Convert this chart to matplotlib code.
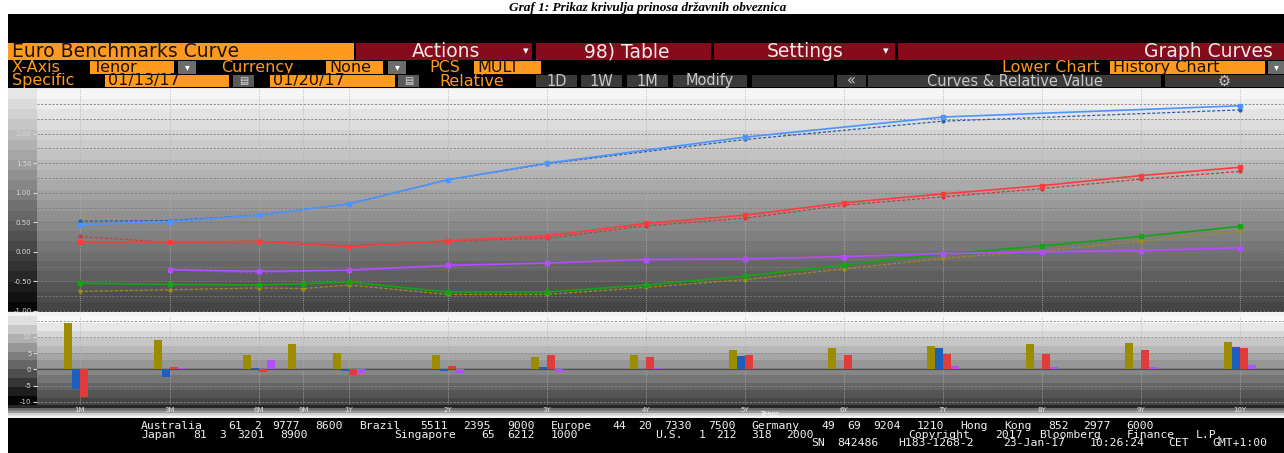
import numpy as np
import matplotlib
matplotlib.use("Agg")
import matplotlib.pyplot as plt
from matplotlib.patches import Rectangle

# ---------------- data ----------------
tenors = ['1M', '3M', '6M', '9M', '1Y', '2Y', '3Y', '4Y', '5Y', '6Y', '7Y', '8Y', '9Y', '10Y']
nan = np.nan

# upper chart: yields in %, current (solid) and comparison (dashed)
green_cur = [-0.53, -0.55, -0.56, -0.54, -0.51, -0.68, -0.68, -0.56, -0.41, -0.22, -0.04, 0.10, 0.26, 0.43]
olive_prev = [-0.67, -0.64, -0.61, -0.62, -0.56, -0.72, -0.72, -0.60, -0.47, -0.29, -0.11, 0.02, 0.18, 0.35]
blue_cur = [0.46, 0.51, 0.62, nan, 0.81, 1.22, 1.50, nan, 1.94, nan, 2.28, nan, nan, 2.47]
blue_prev = [0.52, 0.53, 0.62, nan, 0.81, 1.22, 1.49, nan, 1.90, nan, 2.21, nan, nan, 2.40]
red_cur = [0.17, 0.17, 0.175, nan, 0.085, 0.19, 0.27, 0.48, 0.62, 0.83, 0.98, 1.12, 1.29, 1.43]
red_prev = [0.26, 0.16, 0.18, nan, 0.10, 0.18, 0.23, 0.44, 0.57, 0.79, 0.93, 1.07, 1.23, 1.36]
purple_cur = [nan, -0.30, -0.33, nan, -0.31, -0.23, -0.19, -0.13, -0.12, -0.08, -0.03, 0.00, 0.02, 0.07]
purple_prev = [nan, -0.305, -0.36, nan, -0.30, -0.22, -0.18, -0.135, -0.12, -0.083, -0.041, -0.008, 0.011, 0.056]

# lower chart: change in bp
chg_olive = [14.3, 9.0, 4.5, 7.7, 5.0, 4.5, 3.7, 4.5, 6.0, 6.6, 7.2, 7.8, 8.1, 8.4]
chg_blue = [-6.1, -2.4, 0.4, nan, -0.4, -0.5, 0.8, nan, 4.0, nan, 6.5, nan, nan, 6.9]
chg_red = [-8.6, 0.9, -0.8, nan, -1.8, 1.1, 4.3, 3.8, 4.6, 4.3, 4.9, 4.7, 5.9, 6.6]
chg_purple = [nan, 0.5, 2.9, nan, -1.2, -1.2, -0.8, 0.5, 0.0, 0.3, 1.1, 0.8, 0.9, 1.4]

upper_ticks = [2.5, 2.0, 1.5, 1.0, 0.5, 0.0, -0.5, -1.0]
lower_ticks = [15, 10, 5, 0, -5, -10]

title = 'Graf 1: Prikaz krivulja prinosa državnih obveznica'
footer_lines = [
    'Australia 61 2 9777 8600 Brazil 5511 2395 9000 Europe 44 20 7330 7500 Germany 49 69 9204 1210 Hong Kong 852 2977 6000',
    'Japan 81 3 3201 8900         Singapore 65 6212 1000        U.S. 1 212 318 2000          Copyright 2017 Bloomberg Finance L.P.',
    'SN 842486 H183-1268-2 23-Jan-17 10:26:24 CET  GMT+1:00',
]

# ---------------- layout / style ----------------
W, H, DPI = 1284, 453, 100
# Bloomberg's tenor axis (non-linear at the short end), in axis units
TENOR_AXIS = np.array([-1.72, -0.81, 0.09, 0.54, 1, 2, 3, 4, 5, 6, 7, 8, 9, 10], dtype=float)
PX_PER_UNIT = 99.0
X_1Y_PX = 349.0

ORANGE = '#ff9a1f'
DRED = '#860c1c'
DARK = '#1c1205'

fig = plt.figure(figsize=(W / DPI, H / DPI), dpi=DPI)
fig.patch.set_facecolor('white')
ax0 = fig.add_axes([0, 0, 1, 1])
ax0.axis('off')


def prect(x0, y0, x1, y1):
    return [x0 / W, 1 - y1 / H, (x1 - x0) / W, (y1 - y0) / H]


def rect(x0, y0, x1, y1, color, z=2):
    ax0.add_patch(Rectangle((x0, y0), x1 - x0, y1 - y0, facecolor=color,
                            edgecolor='none', zorder=z))


def txt(x, y, s, size, color, ha='left', va='center', family='DejaVu Sans', z=5, **kw):
    ax0.text(x, y, s, fontsize=size, color=color, ha=ha, va=va, family=family,
             zorder=z, **kw)


def grad(x0, x1, y0, y1, top, bot, n, z=1):
    arr = np.linspace(top, bot, n).reshape(-1, 1)
    ax0.imshow(arr, cmap='gray', vmin=0, vmax=1, extent=(x0, x1, y1, y0),
               aspect='auto', interpolation='nearest', zorder=z)


# ---- title ----
txt(648, 13.5, title, 9.5, 'black', ha='center', va='bottom',
    family=['Liberation Serif', 'DejaVu Serif'], fontweight='bold', style='italic', z=1)

# ---- black header ----
rect(8, 14, W, 88, 'black', z=2)

# row 1
R1 = 13.5
rect(8, 43, 354, 60, ORANGE, z=3)
txt(12, 51.5, 'Euro Benchmarks Curve', R1, DARK)
for (a, b) in [(356, 532), (536, 711), (714, 895), (898, W)]:
    rect(a, 43, b, 60, DRED, z=3)
txt(446, 51.5, 'Actions', R1, '#f4e8e8', ha='center')
txt(526, 51.5, '▾', 8, 'white', ha='center')
txt(627, 51.5, '98) Table', R1, '#f4e8e8', ha='center')
txt(805, 51.5, 'Settings', R1, '#f4e8e8', ha='center')
txt(886, 51.5, '▾', 8, 'white', ha='center')
txt(1273, 51.5, 'Graph Curves', R1, '#f4e8e8', ha='right')

# row 2
RS = 11.5
txt(12, 67.5, 'X-Axis', RS, ORANGE)
rect(90, 61, 174, 74, ORANGE, z=3)
txt(93, 67.5, 'Tenor', RS, DARK)
rect(178, 61, 196, 74, '#6c6c6c', z=3)
txt(187, 67.5, '▾', 7, 'white', ha='center')
txt(221, 67.5, 'Currency', RS, ORANGE)
rect(326, 61, 383, 74, ORANGE, z=3)
txt(329, 67.5, 'None', RS, DARK)
rect(388, 61, 406, 74, '#6c6c6c', z=3)
txt(397, 67.5, '▾', 7, 'white', ha='center')
txt(429, 67.5, 'PCS', RS, ORANGE)
rect(474, 61, 541, 74, ORANGE, z=3)
txt(477, 67.5, 'MULT', RS, DARK)
txt(1099, 67.5, 'Lower Chart', RS, ORANGE, ha='right')
rect(1110, 61, 1265, 74, ORANGE, z=3)
txt(1113, 67.5, 'History Chart', RS, DARK)
rect(1268, 61, W, 74, '#6c6c6c', z=3)
txt(1276, 67.5, '▾', 7, 'white', ha='center')

# row 3
txt(12, 81, 'Specific', RS, ORANGE)
rect(105, 75, 229, 87, ORANGE, z=3)
txt(108, 81, '01/13/17', RS, DARK)
rect(233, 75, 254, 87, '#5a5a5a', z=3)
txt(243.5, 81, '▤', 7, '#dddddd', ha='center')
rect(270, 75, 395, 87, ORANGE, z=3)
txt(273, 81, '01/20/17', RS, DARK)
rect(398, 75, 419, 87, '#5a5a5a', z=3)
txt(408.5, 81, '▤', 7, '#dddddd', ha='center')
txt(439, 81, 'Relative', RS, ORANGE)
for (a, b, s) in [(536, 577, '1D'), (581, 622, '1W'), (627, 668, '1M'), (673, 747, 'Modify'),
                  (752, 834, ''), (837, 866, '«'), (868, 1161, 'Curves & Relative Value'),
                  (1165, W, '⚙')]:
    rect(a, 75, b, 87, '#3a3a3a' if s else '#2c2c2c', z=3)
    if s:
        txt((a + b) / 2, 81, s, 10.5, '#c8c8c8', ha='center')

# ---- chart backgrounds ----
rect(8, 88, W, 418, '#e8e8e8', z=1)
grad(8, 37, 89, 312, 0.90, 0.03, 22, z=2)
grad(37, W, 89, 312, 0.96, 0.27, 22, z=2)
rect(8, 311, W, 312, '#2e2e2e', z=3)
rect(8, 312, W, 316, '#f2f2f2', z=3)
grad(8, 37, 316, 405, 0.88, 0.02, 10, z=2)
grad(37, W, 316, 405, 0.97, 0.27, 12, z=2)
rect(8, 405, W, 408, '#262626', z=3)
grad(8, W, 408, 413, 0.42, 0.60, 3, z=3)
grad(8, W, 413, 418, 0.82, 0.95, 3, z=3)
txt(770, 414.5, 'Tenor', 5, '#fafafa', ha='center')

# ---- footer ----
rect(8, 418, W, H, 'black', z=2)
CW = 8.72
for line, (x0, y0) in zip(footer_lines, [(141, 426), (141, 434.5), (811, 443)]):
    idx = 0
    for word in line.split(' '):
        if word:
            txt(x0 + idx * CW, y0, word, 8.2, '#f2f2f2', family='DejaVu Sans Mono')
        idx += len(word) + 1

ax0.set_xlim(0, W)
ax0.set_ylim(H, 0)

# ---------------- charts ----------------
xl = (1 + (37 - X_1Y_PX) / PX_PER_UNIT, 1 + (W - X_1Y_PX) / PX_PER_UNIT)

# upper: yield curves
PPU = 59.14
ax_up = fig.add_axes(prect(37, 89, W, 313))
ax_up.set_facecolor('none')
ax_up.set_xlim(*xl)
ax_up.set_ylim(-1.0 - 2 / PPU, 2.5 + 15 / PPU)
for sp in ax_up.spines.values():
    sp.set_visible(False)
ax_up.set_xticks([])
ax_up.set_yticks(upper_ticks)
ax_up.set_yticklabels([f'{v:.2f}' for v in upper_ticks])
ax_up.tick_params(axis='y', direction='out', length=3, width=0.8, colors='#dadada',
                  labelsize=5, pad=1)
for v in np.arange(-1.0, 2.51, 0.25):
    ax_up.axhline(v, color='#7c7c7c', lw=0.6, ls=(0, (2.5, 2)), zorder=1)
for xv in TENOR_AXIS:
    ax_up.axvline(xv, color='#b0b0b0', lw=0.6, ls=(0, (1, 1.5)), zorder=1)


def curve(vals, color, dashed):
    y = np.array(vals, dtype=float)
    m = ~np.isnan(y)
    if dashed:
        ax_up.plot(TENOR_AXIS[m], y[m], color=color, lw=0.9, ls=(0, (2.5, 1.5)),
                   marker='o', ms=2.0, zorder=3)
    else:
        ax_up.plot(TENOR_AXIS[m], y[m], color=color, lw=1.2, ls='-',
                   marker='s', ms=2.2, zorder=4)


curve(olive_prev, '#a08f14', True)
curve(blue_prev, '#2d5fa8', True)
curve(red_prev, '#cc3a3a', True)
curve(purple_prev, '#9b45e0', True)
curve(green_cur, '#14a514', False)
curve(blue_cur, '#4d94ff', False)
curve(red_cur, '#ff3c3c', False)
curve(purple_cur, '#b44dff', False)

# lower: change bars
BPU = 3.252
ax_lo = fig.add_axes(prect(37, 316, W, 405))
ax_lo.set_facecolor('none')
ax_lo.set_xlim(*xl)
ax_lo.set_ylim(-10 - 3 / BPU, 15 + 4.7 / BPU)
for sp in ax_lo.spines.values():
    sp.set_visible(False)
ax_lo.set_yticks(lower_ticks)
ax_lo.set_yticklabels([str(v) for v in lower_ticks])
ax_lo.set_xticks(TENOR_AXIS)
ax_lo.set_xticklabels(tenors)
ax_lo.tick_params(axis='y', direction='out', length=3, width=0.8, colors='#dadada',
                  labelsize=5, pad=1)
ax_lo.tick_params(axis='x', length=0, colors='#e2e2e2', labelsize=5, pad=1.8)
for v in [15, 10, 5, -5, -10]:
    ax_lo.axhline(v, color='#8a8a8a', lw=0.6, ls=(0, (2.5, 2)), zorder=1)
ax_lo.axhline(0, color='#505050', lw=0.9, zorder=2)
for xv in TENOR_AXIS:
    ax_lo.axvline(xv, color='#b0b0b0', lw=0.6, ls=(0, (1, 1.5)), zorder=1)

bw = 0.079
for k, (vals, col) in enumerate([(chg_olive, '#9c8c00'), (chg_blue, '#1c5fbe'),
                                 (chg_red, '#e23b3b'), (chg_purple, '#b04fff')]):
    y = np.array(vals, dtype=float)
    m = ~np.isnan(y)
    ax_lo.bar(TENOR_AXIS[m] + (k - 1.5) * bw, y[m], width=bw, color=col,
              edgecolor='none', zorder=3)

fig.savefig('out.png', dpi=DPI)
